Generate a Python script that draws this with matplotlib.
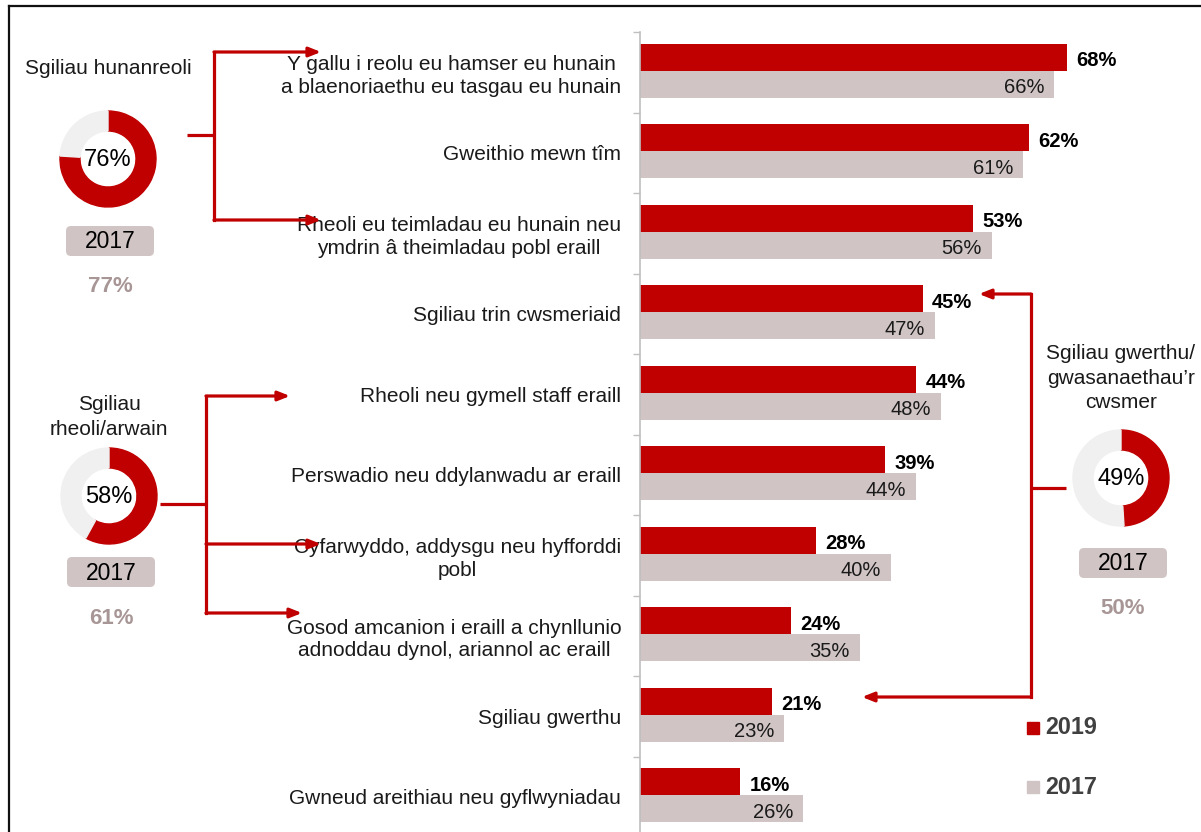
import matplotlib
matplotlib.use("Agg")
import numpy as np
import matplotlib.pyplot as plt
from matplotlib.patches import Wedge, FancyBboxPatch
from matplotlib.lines import Line2D

plt.rcParams['font.family'] = ['Liberation Sans', 'DejaVu Sans']

# data
categories = [
    "Y gallu i reolu eu hamser eu hunain\na blaenoriaethu eu tasgau eu hunain",
    "Gweithio mewn tîm",
    "Rheoli eu teimladau eu hunain neu\nymdrin â theimladau pobl eraill",
    "Sgiliau trin cwsmeriaid",
    "Rheoli neu gymell staff eraill",
    "Perswadio neu ddylanwadu ar eraill",
    "Cyfarwyddo, addysgu neu hyfforddi\npobl",
    "Gosod amcanion i eraill a chynllunio\nadnoddau dynol, ariannol ac eraill",
    "Sgiliau gwerthu",
    "Gwneud areithiau neu gyflwyniadau",
]
vals_2019 = [68, 62, 53, 45, 44, 39, 28, 24, 21, 16]
vals_2017 = [66, 61, 56, 47, 48, 44, 40, 35, 23, 26]

group_titles = ["Sgiliau hunanreoli", "Sgiliau\nrheoli/arwain",
                "Sgiliau gwerthu/\ngwasanaethau’r\ncwsmer"]
group_2019 = [76, 58, 49]
group_2017 = [77, 61, 50]

RED = '#C00000'
GREY = '#D0C4C4'
PALE = '#F0F0F0'
MAUVE = '#A89696'
TXT = '#1A1A1A'

W, H = 1201, 832
fig = plt.figure(figsize=(W / 100, H / 100), dpi=100)

# ---- bar chart ----
ax = fig.add_axes([640 / W, 0, 561 / W, 800 / H])
ax.set_xlim(0, 561 / 6.28)
ax.set_ylim(800 / 80.5, 0)

rows = np.arange(len(categories))
bh = 0.335
ax.barh(rows + 0.149 + bh / 2, vals_2019, height=bh, color=RED, label='2019')
ax.barh(rows + 0.484 + bh / 2, vals_2017, height=bh, color=GREY, label='2017')

for i, (a, b) in enumerate(zip(vals_2019, vals_2017)):
    ax.text(a + 1.45, i + 0.149 + bh / 2 + 0.04, f"{a}%", ha='left', va='center',
            fontsize=14.5, fontweight='bold', color='black')
    ax.text(b - 1.6, i + 0.484 + bh / 2 + 0.04, f"{b}%", ha='right', va='center',
            fontsize=14.5, color=TXT)

for s in ['top', 'right', 'bottom']:
    ax.spines[s].set_visible(False)
ax.spines['left'].set_color('#BFBFBF')
ax.spines['left'].set_linewidth(1.2)
ax.set_xticks([])
ax.set_yticks(np.arange(len(categories)))
ax.set_yticklabels([])
ax.tick_params(axis='y', which='major', length=5, color='#BFBFBF', width=1)
ax.set_yticks(rows + 0.5, minor=True)
ax.set_yticklabels(categories, minor=True, fontsize=15, color=TXT)
ax.tick_params(axis='y', which='minor', length=0, pad=13.5)
for lbl in ax.get_yticklabels(minor=True):
    lbl.set_multialignment('center')
    lbl.set_linespacing(1.25)

# ---- overlay: donuts, connectors, legend, frame ----
ov = fig.add_axes([0, 0, 1, 1])
ov.set_xlim(0, W)
ov.set_ylim(H, 0)
ov.axis('off')

centers = [(108, 159), (109, 496), (1121, 478)]
title_y = [68, 417, 378]
box_y = [241, 572, 563]
prev_y = [286, 618, 608]
for (cx, cy), title, p19, p17, ty, by, py in zip(centers, group_titles, group_2019,
                                                group_2017, title_y, box_y, prev_y):
    ang = -90 + p19 * 3.6
    ov.add_patch(Wedge((cx, cy), 48, -90, ang, width=20, color=RED))
    ov.add_patch(Wedge((cx, cy), 48, ang, 270, width=20, color=PALE))
    ov.text(cx, cy + 1, f"{p19}%", ha='center', va='center', fontsize=17, color='black')
    ov.text(cx, ty, title, ha='center', va='center', fontsize=15, color=TXT,
            linespacing=1.38)
    bx = cx + 2
    ov.add_patch(FancyBboxPatch((bx - 44, by - 15), 88, 30,
                                boxstyle='round,pad=0,rounding_size=5',
                                facecolor=GREY, edgecolor='none'))
    ov.text(bx, by + 1, "2017", ha='center', va='center', fontsize=16.5, color='black')
    ov.text(bx, py, f"{p17}%", ha='center', va='center', fontsize=16,
            fontweight='bold', color=MAUVE)


def bracket(stub, vx, y0, y1, targets):
    kw = dict(color=RED, lw=2.3, solid_capstyle='butt')
    ov.plot([stub[0], vx], [stub[1], stub[1]], **kw)
    ov.plot([vx, vx], [y0, y1], solid_capstyle='projecting', color=RED, lw=2.3)
    for tx, ty in targets:
        ov.annotate('', xy=(tx, ty), xytext=(vx, ty),
                    arrowprops=dict(arrowstyle='-|>,head_length=0.7,head_width=0.28',
                                    color=RED, lw=2.3, shrinkA=0, shrinkB=0,
                                    mutation_scale=10))


bracket((187, 135), 214, 52, 220, [(321, 52), (321, 220)])
bracket((160, 504), 206, 396, 613, [(290, 396), (321, 544), (302, 613)])
bracket((1066, 488), 1031, 294, 697, [(979, 294), (862, 697)])

# legend
for (lab, col), ly in zip([('2019', RED), ('2017', GREY)], [728, 787]):
    ov.add_patch(plt.Rectangle((1027, ly - 6), 12, 12, color=col))
    ov.text(1045, ly, lab, ha='left', va='center', fontsize=16.8,
            fontweight='bold', color='#404040')

# frame lines
fig.add_artist(Line2D([9 / W, 1], [1 - 6 / H, 1 - 6 / H], color='#111111', lw=1.6))
fig.add_artist(Line2D([9 / W, 9 / W], [0, 1 - 6 / H], color='#111111', lw=1.6))

fig.savefig('out.png', dpi=100)
